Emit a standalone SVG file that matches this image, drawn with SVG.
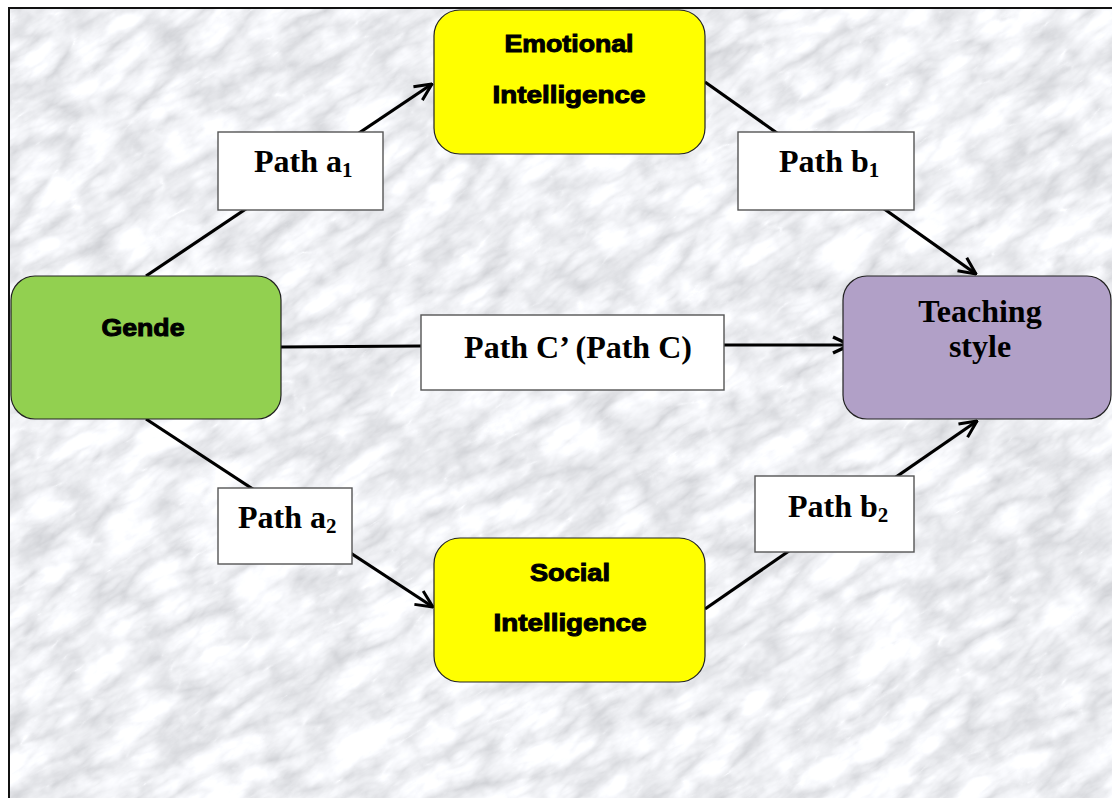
<svg xmlns="http://www.w3.org/2000/svg" width="1112" height="798" viewBox="0 0 1112 798">
  <defs>
    <filter id="marble" x="0" y="0" width="1" height="1" filterUnits="objectBoundingBox">
      <feTurbulence type="turbulence" baseFrequency="0.012 0.03" numOctaves="5" seed="11" result="veins"/>
      <feTurbulence type="fractalNoise" baseFrequency="0.035" numOctaves="3" seed="4" result="mottle"/>
      <feComposite in="veins" in2="mottle" operator="arithmetic" k1="0" k2="0.9" k3="0.25" k4="0" result="mix"/>
      <feColorMatrix in="mix" type="matrix"
        values="0.75 0 0 0 0.57
                0.75 0 0 0 0.58
                0.75 0 0 0 0.61
                0 0 0 0 1"/>
    </filter>
    <marker id="arrow" viewBox="0 0 20 20" refX="19" refY="10" markerWidth="20" markerHeight="20" markerUnits="userSpaceOnUse" orient="auto">
      <path d="M2,2 L19,10 L2,18" fill="none" stroke="#000" stroke-width="3"/>
    </marker>
    <marker id="arrowL" viewBox="0 0 20 20" refX="19" refY="10" markerWidth="20" markerHeight="20" markerUnits="userSpaceOnUse" orient="auto">
      <path d="M2,2 L19,10 L2,18" fill="none" stroke="#000" stroke-width="3.4"/>
    </marker>
    <style>
      .node { stroke: #222; stroke-width: 1.2; }
      .label { fill: #fff; stroke: #555; stroke-width: 1.4; }
      .sans { font-family: "Liberation Sans", Arial, sans-serif; font-weight: bold; font-size: 24px; fill: #000; stroke: #000; stroke-width: 1; }
      .serif { font-family: "Liberation Serif", "Times New Roman", serif; font-weight: bold; font-size: 32px; fill: #000; }
      .sub { font-size: 21px; }
      .edge { fill: none; stroke: #000; stroke-width: 3.2; }
    </style>
  </defs>

  <!-- marble backdrop -->
  <rect x="0" y="0" width="1112" height="798" fill="#ffffff"/>
  <svg x="9" y="8" width="1103" height="790" overflow="hidden">
    <g transform="rotate(-32 550 400)">
      <rect x="-400" y="-400" width="1900" height="1600" filter="url(#marble)"/>
    </g>
  </svg>
  <path d="M9,798 V8 H1112" fill="none" stroke="#111" stroke-width="2"/>

  <!-- connectors -->
  <g id="connectors">
    <line class="edge" x1="146" y1="276" x2="432" y2="84" marker-end="url(#arrow)"/>
    <line class="edge" x1="146" y1="419" x2="433" y2="607" marker-end="url(#arrow)"/>
    <line class="edge" x1="705" y1="82" x2="976" y2="274" marker-end="url(#arrow)"/>
    <line class="edge" x1="705" y1="609" x2="977" y2="421" marker-end="url(#arrow)"/>
    <line class="edge" x1="281" y1="347" x2="421" y2="346" stroke-width="3.6"/>
    <line class="edge" x1="724" y1="345" x2="850" y2="345" stroke-width="3.6" marker-end="url(#arrowL)"/>
  </g>

  <!-- path labels -->
  <g id="label-a1">
    <rect class="label" x="218" y="132" width="165" height="78"/>
    <text class="serif" x="254" y="172">Path a<tspan class="sub" dy="5">1</tspan></text>
  </g>
  <g id="label-b1">
    <rect class="label" x="738" y="132" width="176" height="78"/>
    <text class="serif" x="779" y="172">Path b<tspan class="sub" dy="5">1</tspan></text>
  </g>
  <g id="label-a2">
    <rect class="label" x="218" y="488" width="134" height="76"/>
    <text class="serif" x="238" y="528">Path a<tspan class="sub" dy="5">2</tspan></text>
  </g>
  <g id="label-b2">
    <rect class="label" x="755" y="476" width="159" height="76"/>
    <text class="serif" x="788" y="517">Path b<tspan class="sub" dy="5">2</tspan></text>
  </g>
  <g id="label-c">
    <rect class="label" x="421" y="315" width="303" height="75"/>
    <text class="serif" x="578" y="358" text-anchor="middle">Path C’ (Path C)</text>
  </g>

  <!-- variables -->
  <g id="node-gender">
    <rect class="node" x="11" y="276" width="270" height="143" rx="24" fill="#92d050"/>
    <text class="sans" x="143" y="336" text-anchor="middle" textLength="83" lengthAdjust="spacingAndGlyphs">Gende</text>
  </g>
  <g id="node-emotional">
    <rect class="node" x="434" y="10" width="271" height="144" rx="26" fill="#ffff00"/>
    <text class="sans" x="569" y="52" text-anchor="middle" textLength="129" lengthAdjust="spacingAndGlyphs">Emotional</text>
    <text class="sans" x="569" y="103" text-anchor="middle" textLength="153" lengthAdjust="spacingAndGlyphs">Intelligence</text>
  </g>
  <g id="node-social">
    <rect class="node" x="434" y="538" width="271" height="144" rx="26" fill="#ffff00"/>
    <text class="sans" x="570" y="581" text-anchor="middle" textLength="80" lengthAdjust="spacingAndGlyphs">Social</text>
    <text class="sans" x="570" y="631" text-anchor="middle" textLength="153" lengthAdjust="spacingAndGlyphs">Intelligence</text>
  </g>
  <g id="node-teaching">
    <rect class="node" x="843" y="276" width="268" height="143" rx="24" fill="#b1a0c7"/>
    <text class="serif" x="980" y="322" text-anchor="middle">Teaching</text>
    <text class="serif" x="980" y="357" text-anchor="middle">style</text>
  </g>
</svg>
